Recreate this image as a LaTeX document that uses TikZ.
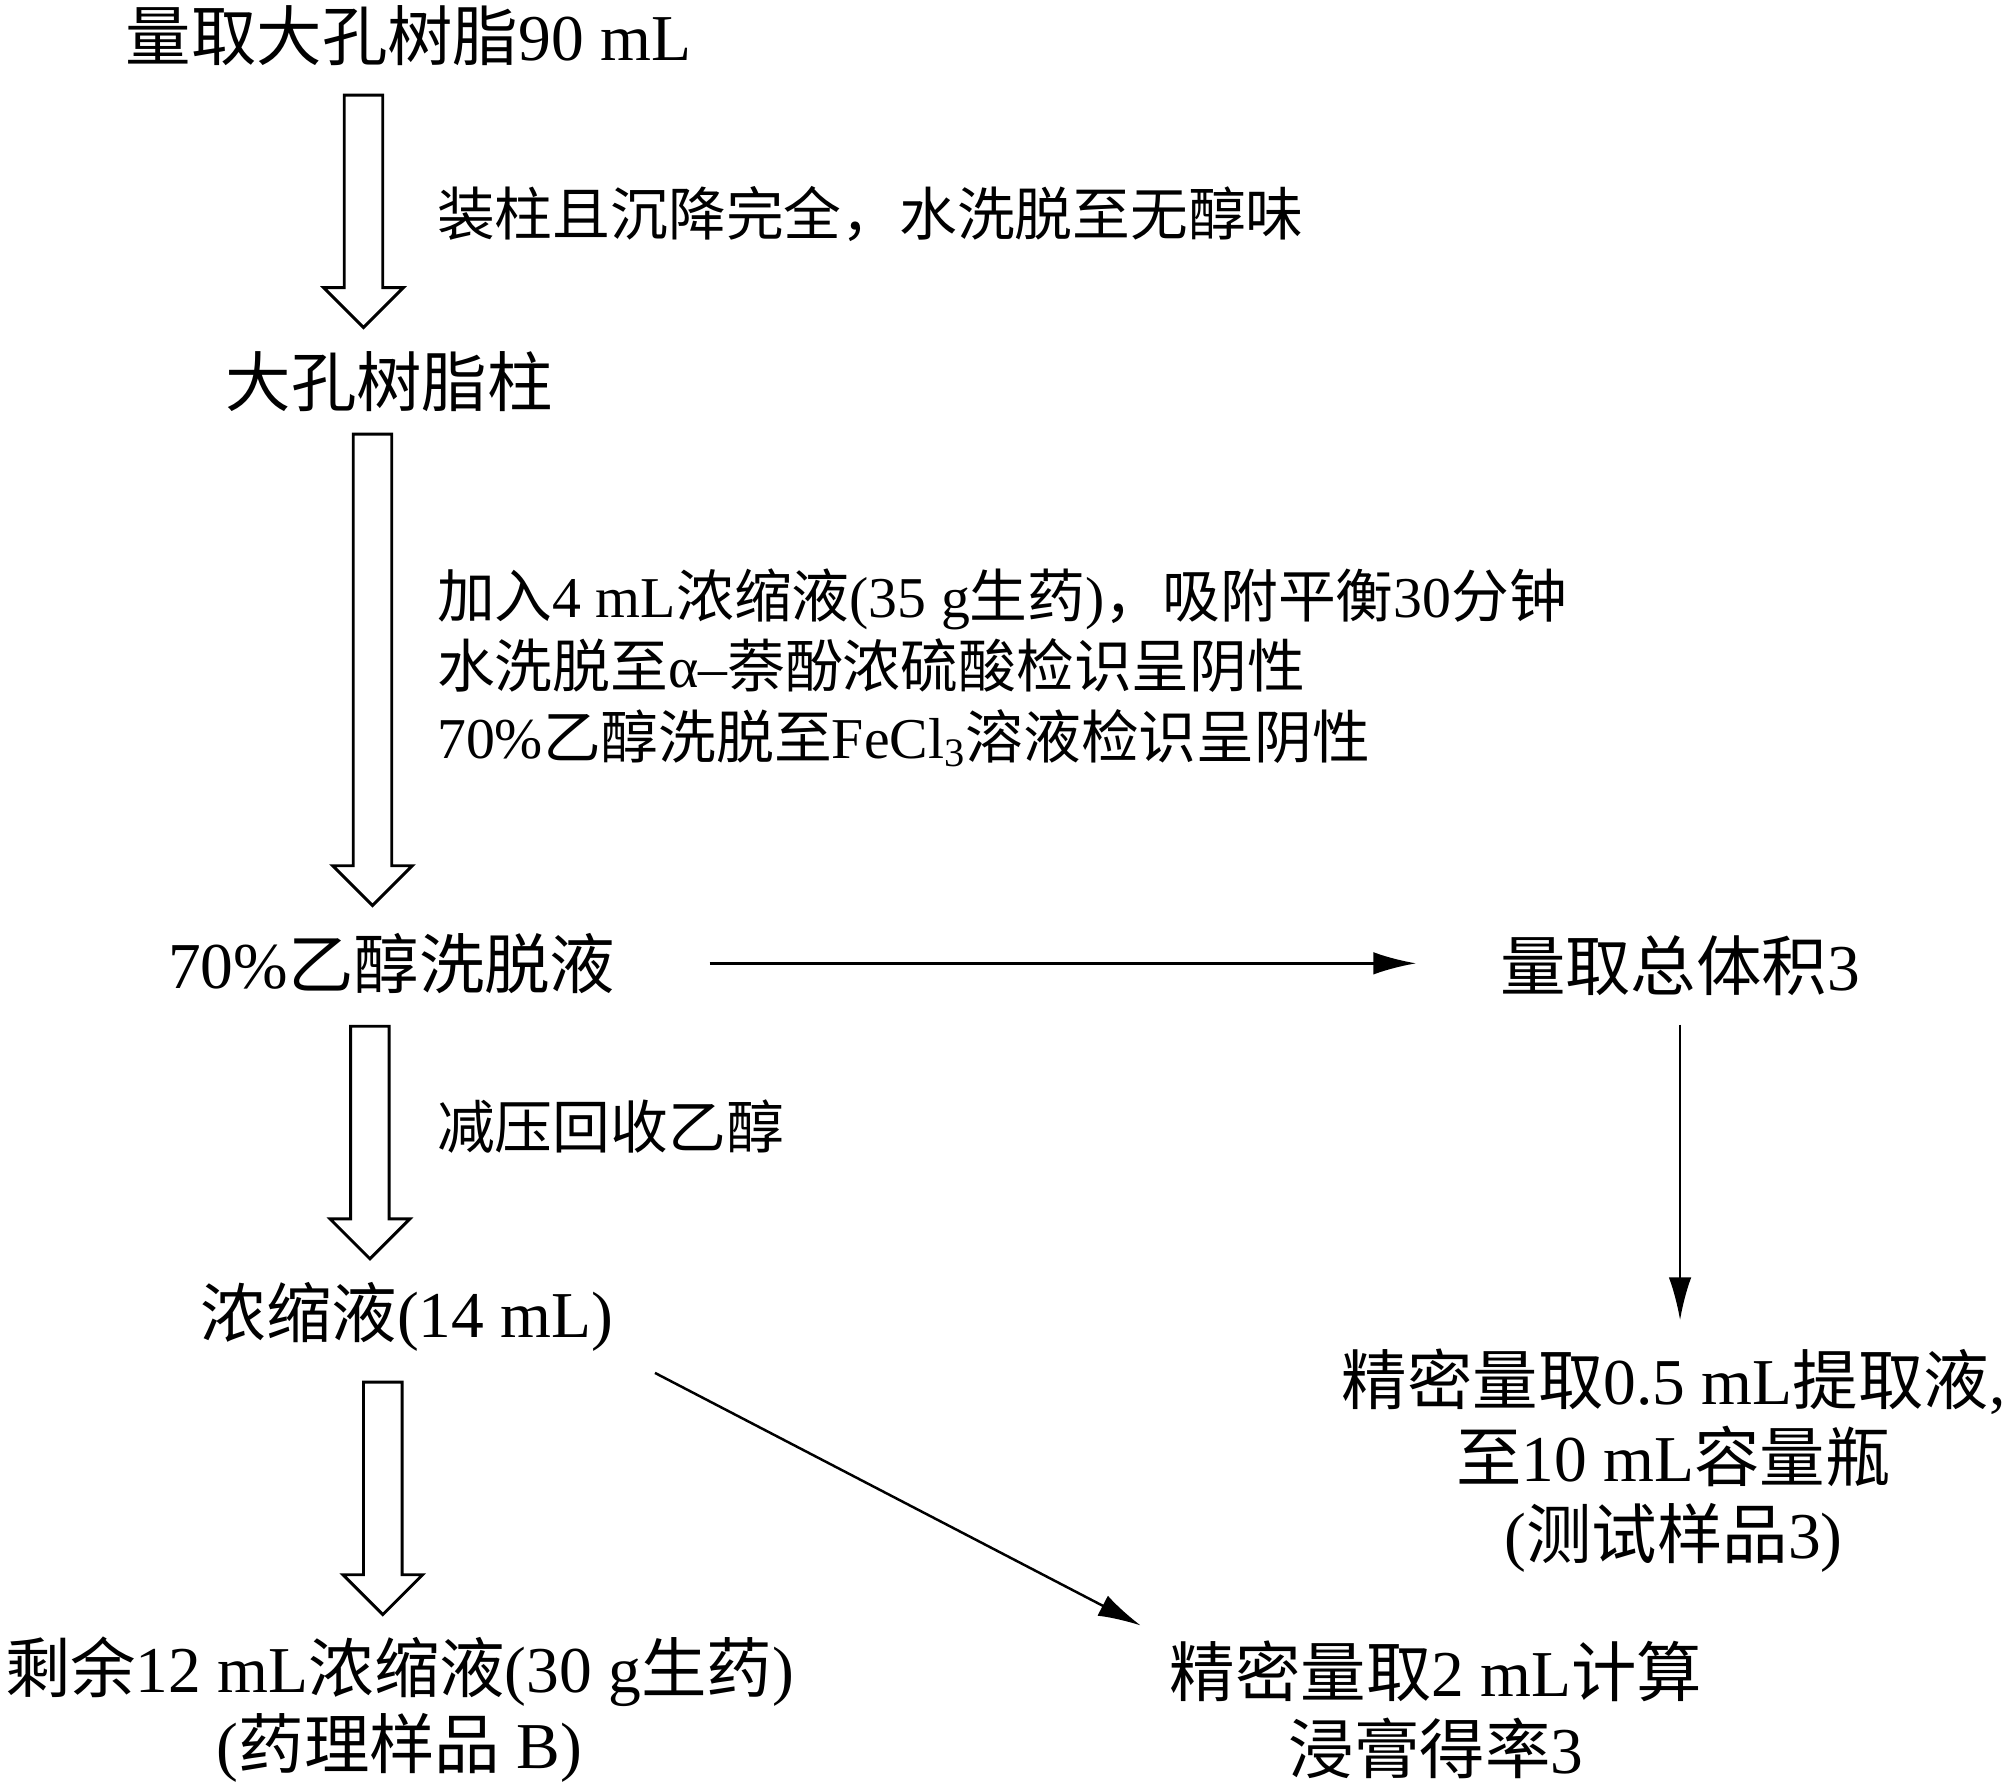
\documentclass[tikz,border=0pt]{standalone}
\usepackage{fontspec}
\setmainfont{Liberation Serif}
\newfontfamily\cjk{Noto Sans CJK SC}
\usetikzlibrary{arrows.meta}
\newcommand\zh[1]{{\cjk #1}}

\begin{document}
\begin{tikzpicture}[x=0.02cm, y=-0.02cm, >={Latex[length=19pt,width=10pt]},
    big/.style={inner sep=0pt, font=\fontsize{29}{34}\selectfont, align=center},
    small/.style={inner sep=0pt, anchor=west, font=\fontsize{25.6}{31.3}\selectfont, align=left},
    hollow/.style={draw=black, line width=1.3pt, fill=white, line join=miter},
    thin/.style={->, line width=1.1pt}]
    \useasboundingbox (0,0) rectangle (1568,1392);

    % main column
    \node[big] (resin) at (318,28) {\zh{量取大孔树脂}90 mL};
    \node[big] (column) at (303,297) {\zh{大孔树脂柱}};
    \node[big] (eluate) at (305,750) {70\%\zh{乙醇洗脱液}};
    \node[big] (conc) at (317,1025) {\zh{浓缩液}(14 mL)};
    \node[big] (rest) at (311,1331) {\zh{剩余}12 mL\zh{浓缩液}(30 g\zh{生药})\\(\zh{药理样品} B)};

    % right side
    \node[big] (volume) at (1308,752) {\zh{量取总体积}3};
    \node[big] (test) at (1303,1137) {\zh{精密量取}0.5 mL\zh{提取液},\\\zh{至}10 mL\zh{容量瓶}\\(\zh{测试样品}3)};
    \node[big] (yield) at (1118,1331) {\zh{精密量取}2 mL\zh{计算}\\\zh{浸膏得率}3};

    % step labels
    \node[small] (pack) at (340,167) {\zh{装柱且沉降完全，水洗脱至无醇味}};
    \node[small] (load) at (340,520) {\zh{加入}4 mL\zh{浓缩液}(35 g\zh{生药})\zh{，吸附平衡}30\zh{分钟}\\
        \zh{水洗脱至}α–\zh{萘酚浓硫酸检识呈阴性}\\
        70\%\zh{乙醇洗脱至}FeCl\textsubscript{3}\zh{溶液检识呈阴性}};
    \node[small] (evap) at (340,877) {\zh{减压回收乙醇}};

    % hollow arrows
    \foreach \x / \top / \tip in {283/74/255, 290/338/705, 288/799/980, 298/1076/1257} {
        \draw[hollow] (\x-15,\top) -- (\x+15,\top) -- (\x+15,\tip-31) -- (\x+31,\tip-31)
            -- (\x,\tip) -- (\x-31,\tip-31) -- (\x-15,\tip-31) -- cycle;
    }

    % thin arrows
    \draw[thin, shorten <=1.46cm, shorten >=1.3cm] (eluate.east) -- (eluate.east -| volume.west);
    \draw[thin, shorten <=0.44cm, shorten >=0.44cm] (volume.south) -- (volume.south |- test.north);
    \draw[thin, shorten <=0.72cm, shorten >=0.5cm] (conc.south east) -- (yield.north west);
\end{tikzpicture}
\end{document}
